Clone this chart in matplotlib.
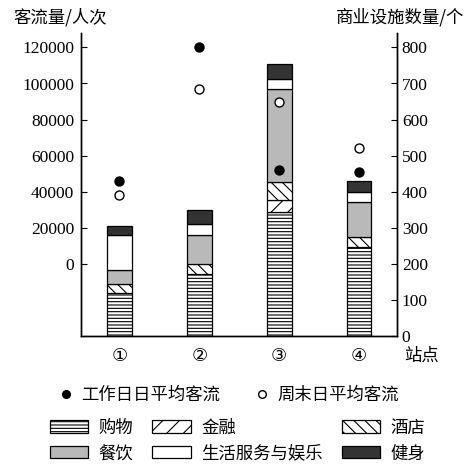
import numpy as np
import matplotlib
matplotlib.use('Agg')
import matplotlib.pyplot as plt
from matplotlib.patches import Patch
from matplotlib.lines import Line2D

plt.rcParams['font.family'] = ['Liberation Serif', 'Noto Sans CJK SC', 'DejaVu Sans']
plt.rcParams['hatch.linewidth'] = 0.8

# stations
stations = ['①', '②', '③', '④']

# passenger flow (left axis, persons)
weekday_flow = [46000, 120000, 52000, 51000]
weekend_flow = [38000, 97000, 90000, 64000]

# commercial facilities (right axis, count), stacked bottom -> top
shopping = [120, 172, 345, 248]
finance = [0, 0, 31, 0]
hotel = [23, 28, 51, 27]
catering = [40, 80, 258, 97]
life_service = [97, 31, 28, 27]
fitness = [25, 39, 40, 32]

categories = ['购物', '金融', '酒店', '餐饮', '生活服务与娱乐', '健身']
series = [shopping, finance, hotel, catering, life_service, fitness]
styles = {
    '购物': dict(facecolor='white', hatch='-----'),
    '金融': dict(facecolor='white', hatch='//'),
    '酒店': dict(facecolor='white', hatch='\\\\\\'),
    '餐饮': dict(facecolor='#b9b9b9', hatch=None),
    '生活服务与娱乐': dict(facecolor='white', hatch=None),
    '健身': dict(facecolor='#333333', hatch=None),
}

fig = plt.figure(figsize=(4.70, 4.65), dpi=100)
ax = fig.add_axes([81/470, 1-336/465, 316/470, 303/465])
ax2 = ax.twinx()

x = np.arange(1, len(stations) + 1)
bottom = np.zeros(len(stations))
for name, vals in zip(categories, series):
    vals = np.array(vals, dtype=float)
    st = styles[name]
    mask = vals > 0
    ax2.bar(x[mask], vals[mask], width=0.31, bottom=bottom[mask],
            facecolor=st['facecolor'], edgecolor='black', linewidth=0.9,
            hatch=st['hatch'])
    bottom += vals

ax.scatter(x, weekday_flow, s=42, color='black', zorder=5)
ax.scatter(x, weekend_flow, s=42, facecolor='white', edgecolor='black',
           linewidth=1.0, zorder=5)

ax.set_zorder(ax2.get_zorder() + 1)
ax.patch.set_visible(False)

ax.set_xlim(0.518, 4.476)
ax.set_ylim(-40000, 128000)
ax2.set_ylim(0, 840)
ax.set_yticks(np.arange(0, 120001, 20000))
ax2.set_yticks(np.arange(0, 801, 100))
ax.set_xticks(x)
ax.set_xticklabels(stations, fontsize=13, family=['DejaVu Sans'])

for a in (ax, ax2):
    a.spines['top'].set_visible(False)
    for s in a.spines.values():
        s.set_linewidth(1.0)
ax.tick_params(axis='y', direction='in', length=4, pad=5, labelsize=12.5)
ax2.tick_params(axis='y', direction='in', length=4, pad=3.5, labelsize=12.5)
ax.tick_params(axis='x', length=0, pad=8)

fig.text(13/470, 1-17/465, '客流量/人次', fontsize=12.5, va='center',
         family=['Noto Sans CJK SC'])
fig.text(336/470, 1-17/465, '商业设施数量/个', fontsize=12.5, va='center',
         family=['Noto Sans CJK SC'])
fig.text(404/470, 1-356/465, '站点', fontsize=12.5, va='center',
         family=['Noto Sans CJK SC'])

# legend: passenger flow markers
h1 = [Line2D([], [], linestyle='none', marker='o', markersize=5.5,
             color='black'),
      Line2D([], [], linestyle='none', marker='o', markersize=5.5,
             markerfacecolor='white', markeredgecolor='black')]
leg1 = fig.legend(h1, ['工作日日平均客流', '周末日平均客流'], ncol=2,
                  loc='center left', bbox_to_anchor=(57/470, 1-395/465),
                  frameon=False, borderpad=0, borderaxespad=0,
                  handlelength=1.0, handletextpad=0.4, columnspacing=1.9,
                  prop={'family': 'Noto Sans CJK SC', 'size': 12.5})

# legend: facility types (column-wise order)
order = ['购物', '餐饮', '金融', '生活服务与娱乐', '酒店', '健身']
h2 = [Patch(facecolor=styles[n]['facecolor'], edgecolor='black',
            hatch=styles[n]['hatch'], linewidth=0.9) for n in order]
leg2 = fig.legend(h2, order, ncol=3, loc='center left',
                  bbox_to_anchor=(50/470, 1-440.5/465),
                  frameon=False, borderpad=0, borderaxespad=0,
                  handlelength=2.2, handleheight=0.7, handletextpad=0.6,
                  columnspacing=1.1, labelspacing=0.45,
                  prop={'family': 'Noto Sans CJK SC', 'size': 12.5})

fig.savefig('out.png', dpi=100)
